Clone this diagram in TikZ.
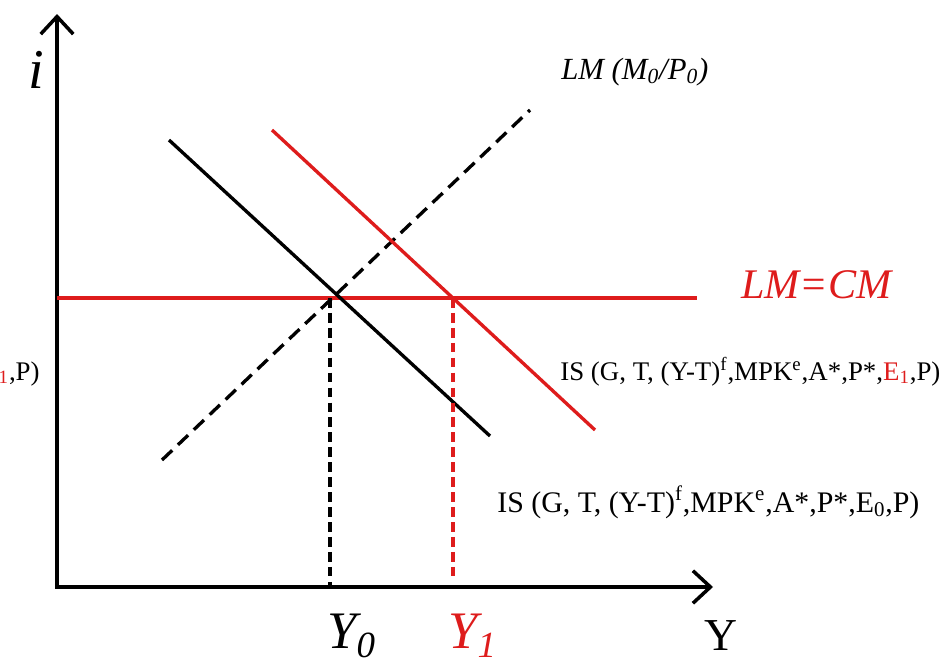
\documentclass[tikz,border=0pt]{standalone}
\usepackage{fontspec}
\setmainfont{Liberation Serif}
\usetikzlibrary{arrows.meta}
\definecolor{lmRed}{RGB}{222, 28, 28}

\begin{document}
\begin{tikzpicture}[
  x=0.02cm, y=-0.02cm,
  axis/.style={
    line width=2pt,
    {Straight Barb[length=3.5mm, width=6.5mm, line width=2pt]}-{Straight Barb[length=3.5mm, width=6.5mm, line width=2pt]}
  },
  curve/.style={line width=1.9pt},
  guide/.style={line width=1.9pt, dash pattern=on 5.5pt off 3pt},
  islabel/.style={anchor=base west, inner sep=0pt, font=\fontsize{15.3}{18}\selectfont},
  axlabel/.style={anchor=base west, inner sep=0pt}
]
\useasboundingbox (0,0) rectangle (951,666);

% axes
\coordinate (itop) at (57,14);
\coordinate (origin) at (57,587);
\coordinate (yend) at (713,587);
\draw[axis] (itop) -- (origin) -- (yend);

% curve ends
\coordinate (is0a) at (169,140);
\coordinate (is0b) at (490,436);
\coordinate (is1a) at (272,130);
\coordinate (is1b) at (595,430);
\coordinate (lma) at (162,460);
\coordinate (lmb) at (530,110);
\coordinate (cma) at (57,298);
\coordinate (cmb) at (697,298);
\coordinate (eq0) at (330,298);
\coordinate (eq1) at (453,298);
\coordinate (foot0) at (330,585);
\coordinate (foot1) at (453,580);

\draw[curve, lmRed] (cma) -- (cmb);
\draw[curve, dash pattern=on 8pt off 4.5pt] (lma) -- (lmb);
\draw[curve] (is0a) -- (is0b);
\draw[curve, lmRed] (is1a) -- (is1b);
\draw[guide] (eq0) -- (foot0);
\draw[guide, lmRed] (eq1) -- (foot1);

% labels
\node[inner sep=0pt, font=\fontsize{32}{34}\selectfont\itshape] (ilabel) at (36,70) {i};
\node[axlabel, font=\fontsize{17.5}{20}\selectfont\itshape] (lmlabel) at (561,79)
  {LM (M\textsubscript{0}/P\textsubscript{0})};
\node[axlabel, lmRed, font=\fontsize{24}{26}\selectfont\itshape] (cmlabel) at (741,298) {LM=CM};
\node[islabel] (is1label) at (560,380)
  {IS (G, T, (Y-T)\textsuperscript{f},MPK\textsuperscript{e},A*,P*,\textcolor{lmRed}{E\textsubscript{1}},P)};
\node[islabel, anchor=base east] (is1cut) at (40,380)
  {IS (G, T, (Y-T)\textsuperscript{f},MPK\textsuperscript{e},A*,P*,\textcolor{lmRed}{E\textsubscript{1}},P)};
\node[islabel, font=\fontsize{17}{20}\selectfont] (is0label) at (497,512)
  {IS (G, T, (Y-T)\textsuperscript{f},MPK\textsuperscript{e},A*,P*,E\textsubscript{0},P)};
\node[axlabel, font=\fontsize{30}{32}\selectfont\itshape] (y0label) at (327,648) {Y\textsubscript{0}};
\node[axlabel, lmRed, font=\fontsize{30}{32}\selectfont\itshape] (y1label) at (448,648) {Y\textsubscript{1}};
\node[axlabel, font=\fontsize{26}{28}\selectfont] (ylabel) at (704,650) {Y};
\end{tikzpicture}
\end{document}
